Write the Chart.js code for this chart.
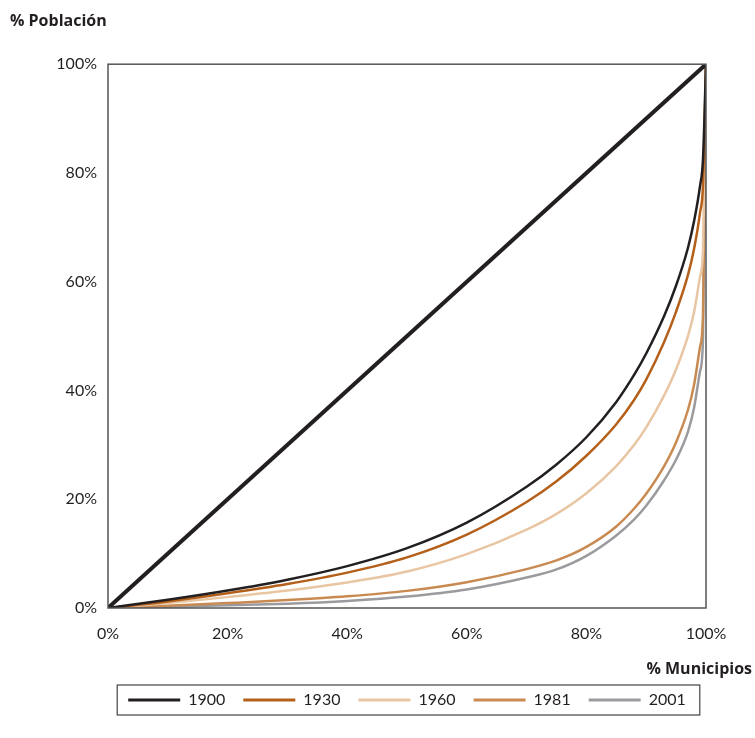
<!DOCTYPE html>
<html>
<head>
<meta charset="utf-8">
<script src="https://cdn.jsdelivr.net/npm/chart.js@4"></script>
<style>
  html, body { margin: 0; padding: 0; background: #fff; }
  #wrap { width: 755px; height: 738px; }
</style>
</head>
<body>
<div id="wrap"><canvas id="lorenzChart"></canvas></div>
<script>
// % of municipios (x) and cumulative % of population (y) for each census year
const muniPct = [0, 10, 20, 30, 40, 50, 60, 70, 75, 80, 85, 88, 90, 93, 95, 97, 98, 99, 99.5, 100];
const pob1900 = [0, 1.5, 3.2, 5.2, 7.7, 11, 15.7, 22.3, 26.4, 31.4, 37.9, 42.9, 46.8, 53.7, 59.3, 66.3, 71.1, 77.6, 82.6, 100];
const pob1930 = [0, 1.2, 2.7, 4.4, 6.5, 9.3, 13.5, 19.5, 23.3, 28, 33.8, 38.3, 42, 48.9, 54.5, 61.3, 66, 72.7, 77.8, 100];
const pob1960 = [0, 0.9, 2, 3.2, 4.7, 6.7, 9.9, 14.4, 17.3, 21.1, 26.1, 30, 33.2, 39.1, 43.9, 50.1, 54.4, 60.9, 65.9, 100];
const pob1981 = [0, 0.4, 0.9, 1.45, 2.15, 3.15, 4.75, 7.15, 8.75, 11.25, 15, 18.3, 21, 26.1, 30.5, 36.5, 41, 48, 54, 100];
const pob2001 = [0, 0.2, 0.5, 0.8, 1.3, 2.1, 3.4, 5.6, 7.1, 9.6, 13.35, 16.3, 18.8, 23.5, 27.3, 32.5, 36.8, 43.5, 49.5, 100];
const equalityX = [0, 100];
const equalityY = [0, 100];
const years = ['1900', '1930', '1960', '1981', '2001'];
const colors = ['#231f20', '#b4601a', '#e9c6a3', '#c98a52', '#9b9b9f'];

function toPoints(xs, ys) {
    return xs.map((x, i) => ({ x: x, y: ys[i] }));
}

const series = [pob1900, pob1930, pob1960, pob1981, pob2001];

const datasets = series.map((ys, i) => ({
    label: years[i],
    data: toPoints(muniPct, ys),
    borderColor: colors[i],
    backgroundColor: colors[i],
    borderWidth: 2.5,
    showLine: true,
    pointRadius: 0,
    cubicInterpolationMode: 'monotone'
}));

datasets.unshift({
    label: 'igualdad',
    data: toPoints(equalityX, equalityY),
    borderColor: '#231f20',
    backgroundColor: '#231f20',
    borderWidth: 4,
    showLine: true,
    pointRadius: 0
});

// frame around plot, x axis title and box around legend
const extras = {
    id: 'extras',
    afterDraw(chart) {
        const ctx = chart.ctx;
        const a = chart.chartArea;
        ctx.save();
        ctx.strokeStyle = '#555';
        ctx.lineWidth = 1.5;
        ctx.strokeRect(a.left, a.top, a.right - a.left, a.bottom - a.top);

        ctx.fillStyle = '#231f20';
        ctx.font = 'bold 16px "Open Sans"';
        ctx.textAlign = 'right';
        ctx.textBaseline = 'middle';
        ctx.fillText('% Municipios', 752, 669);

        const boxes = chart.legend.legendHitBoxes;
        if (boxes && boxes.length) {
            const left = Math.min(...boxes.map(b => b.left));
            const right = Math.max(...boxes.map(b => b.left + b.width));
            const top = Math.min(...boxes.map(b => b.top));
            const bottom = Math.max(...boxes.map(b => b.top + b.height));
            ctx.strokeStyle = '#444';
            ctx.lineWidth = 1.2;
            ctx.strokeRect(left - 11, top - 7, right - left + 25, bottom - top + 14);
        }
        ctx.restore();
    }
};

const ctx = document.getElementById('lorenzChart').getContext('2d');
new Chart(ctx, {
    type: 'scatter',
    data: { datasets: datasets },
    options: {
        responsive: true,
        maintainAspectRatio: false,
        animation: false,
        layout: { padding: { left: 10, right: 49, top: 0, bottom: 20 } },
        scales: {
            x: {
                type: 'linear',
                min: 0,
                max: 100,
                border: { display: false },
                grid: { display: false, drawTicks: false },
                afterFit(scale) { scale.height = 66; },
                ticks: {
                    stepSize: 20,
                    padding: 16,
                    color: '#231f20',
                    font: { family: 'Lato', size: 16 },
                    callback: v => v + '%'
                }
            },
            y: {
                min: 0,
                max: 100,
                border: { display: false },
                grid: { display: false, drawTicks: false },
                afterFit(scale) { scale.width = 98; },
                ticks: {
                    stepSize: 20,
                    padding: 11,
                    color: '#231f20',
                    font: { family: 'Lato', size: 16 },
                    callback: v => v + '%'
                }
            }
        },
        plugins: {
            title: {
                display: true,
                text: '% Población',
                align: 'start',
                color: '#231f20',
                font: { family: 'Open Sans', size: 16, weight: 'bold' },
                padding: { top: 12, bottom: 33 }
            },
            legend: {
                position: 'bottom',
                fullSize: false,
                labels: {
                    boxWidth: 52,
                    boxHeight: 3,
                    padding: 18,
                    color: '#231f20',
                    font: { family: 'Lato', size: 16 },
                    filter: item => item.text !== 'igualdad',
                    generateLabels(chart) {
                        const items = Chart.defaults.plugins.legend.labels.generateLabels(chart);
                        items.forEach(it => { it.lineWidth = 0; });
                        return items;
                    }
                }
            },
            tooltip: { enabled: false }
        }
    },
    plugins: [extras]
});
</script>
</body>
</html>
